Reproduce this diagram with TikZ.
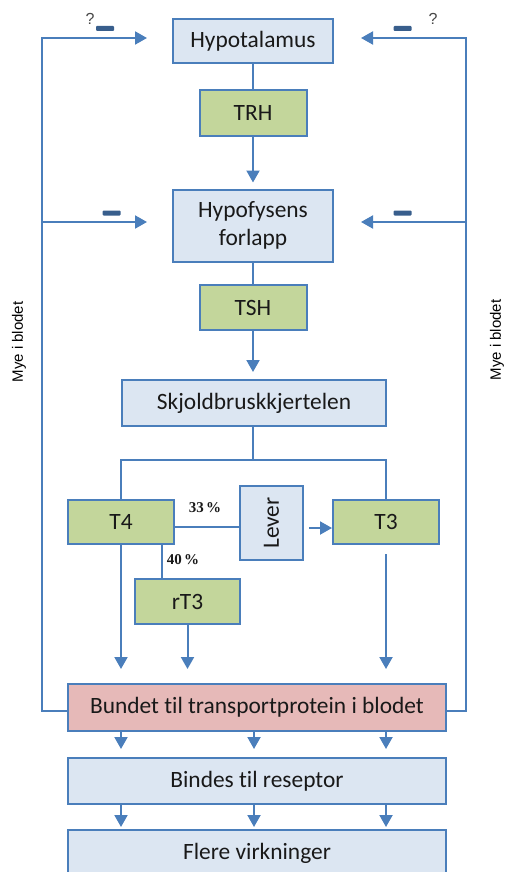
\documentclass[tikz,border=0pt]{standalone}
\usepackage{fontspec}
\setmainfont{Carlito}[Ligatures=NoCommon]
\newfontfamily\arialfont{Liberation Sans}
\newfontfamily\timesfont{Liberation Serif}
\usetikzlibrary{arrows.meta}
\definecolor{lineblue}{RGB}{74,126,187}
\definecolor{boxblue}{RGB}{220,230,242}
\definecolor{boxgreen}{RGB}{195,214,155}
\definecolor{boxred}{RGB}{230,185,184}
\definecolor{minusblue}{RGB}{56,94,140}
\definecolor{textdark}{RGB}{25,25,25}
\tikzset{>=stealth,
  box/.style={draw=lineblue, line width=2pt, inner sep=0pt, text=textdark,
    align=center, font=\fontsize{23.4}{28}\selectfont},
  organ/.style={box, fill=boxblue},
  hormone/.style={box, fill=boxgreen},
  blood/.style={box, fill=boxred},
  flow/.style={draw=lineblue, line width=2pt},
  flowarr/.style={flow, -{Triangle[length=12pt,width=13pt]}},
  minus/.style={fill=minusblue, rounded corners=1pt, minimum width=18pt,
    minimum height=5pt, inner sep=0pt},
  quest/.style={text=textdark!80, font=\arialfont\fontsize{16}{18}\selectfont, inner sep=0pt},
  pct/.style={text=textdark, font=\timesfont\bfseries\fontsize{15}{17}\selectfont, inner sep=0pt},
  side/.style={rotate=90, text=black, font=\arialfont\fontsize{15}{17}\selectfont, inner sep=0pt}}

\begin{document}
\begin{tikzpicture}[x=1pt,y=-1pt]
\useasboundingbox (0,0) rectangle (505,872);
\clip (0,0) rectangle (505,872);

\node[organ, minimum width=160pt, minimum height=44pt] (hypot) at (253,41) {Hypotalamus};
\node[hormone, minimum width=107pt, minimum height=46pt] (trh) at (253,113) {TRH};
\node[organ, minimum width=160pt, minimum height=72pt] (hypof) at (253,225.5) {Hypofysens\\forlapp};
\node[hormone, minimum width=107pt, minimum height=45pt] (tsh) at (253,307.5) {TSH};
\node[organ, minimum width=264pt, minimum height=46pt] (skj) at (254,403) {Skjoldbruskkjertelen};
\node[hormone, minimum width=106pt, minimum height=44pt] (t4) at (121,522) {T4};
\node[organ, minimum width=63pt, minimum height=74pt] (lever) at (271.5,523) {\rotatebox{90}{Lever}};
\node[hormone, minimum width=106pt, minimum height=44pt] (t3) at (386,522) {T3};
\node[hormone, minimum width=105pt, minimum height=45pt] (rt3) at (187.5,601.5) {rT3};
\node[blood, minimum width=378pt, minimum height=47pt] (bundet) at (257,707.5) {Bundet til transportprotein\ i blodet};
\node[organ, minimum width=378pt, minimum height=46pt] (bindes) at (257,781) {Bindes til reseptor};
\node[organ, minimum width=378pt, minimum height=46pt] (flere) at (257,853) {Flere virkninger};

\node[pct] (p33) at (205,508) {33\,\%};
\node[pct] (p40) at (183,560) {40\,\%};

\node[side] (myel) at (19,342) {Mye i blodet};
\node[side] (myer) at (497,340) {Mye i blodet};

\node[minus] (m1) at (105,28.5) {};
\node[minus] (m2) at (402.5,28.5) {};
\node[minus] (m3) at (111.5,213) {};
\node[minus] (m4) at (402.5,213) {};
\node[quest] (q1) at (90,19) {?};
\node[quest] (q2) at (433,19) {?};

\coordinate (inhyl) at (147,38);
\coordinate (inhfl) at (147,222);
\coordinate (inhyr) at (361,38);
\coordinate (inhfr) at (361,222);
\coordinate (split) at (253,460);

\draw[flow] (hypot) -- (trh);
\draw[flowarr, shorten >=6pt] (trh) -- (hypof);
\draw[flow] (hypof) -- (tsh);
\draw[flowarr, shorten >=7pt] (tsh) -- (skj.north -| tsh);
\draw[flow] (skj.south -| split) -- (split) -| (t4);
\draw[flow] (split) -| (t3);

\draw[flow] ([yshift=-5pt]t4.east) -- ([yshift=-5pt]t4.east -| lever.west);
\draw[flowarr] ([xshift=5pt,yshift=-5pt]lever.east) -- ([yshift=-5pt]lever.east -| t3.west);
\draw[flow] ([xshift=41pt]t4.south) -- ([xshift=41pt]t4.south |- rt3.north);

\draw[flowarr, shorten >=14pt] (t4) -- (t4 |- bundet.north);
\draw[flowarr, shorten >=14pt] (rt3) -- (rt3 |- bundet.north);
\draw[flowarr, shorten >=14pt, shorten <=9pt] (t3) -- (t3 |- bundet.north);

\foreach \d in {-136,-3,129} {
  \draw[flowarr, shorten >=8pt] ([xshift=\d pt]bundet.south) -- ([xshift=\d pt]bindes.north);
  \draw[flowarr, shorten >=2pt] ([xshift=\d pt]bindes.south) -- ([xshift=\d pt]flere.north);
}

\draw[flowarr] ([yshift=-3.5pt]bundet.west) -| ([xshift=-105pt]inhyl) -- (inhyl);
\draw[flowarr] ([xshift=-105pt]inhfl) -- (inhfl);
\draw[flowarr] ([yshift=-3.5pt]bundet.east) -| ([xshift=105pt]inhyr) -- (inhyr);
\draw[flowarr] ([xshift=105pt]inhfr) -- (inhfr);
\end{tikzpicture}
\end{document}
